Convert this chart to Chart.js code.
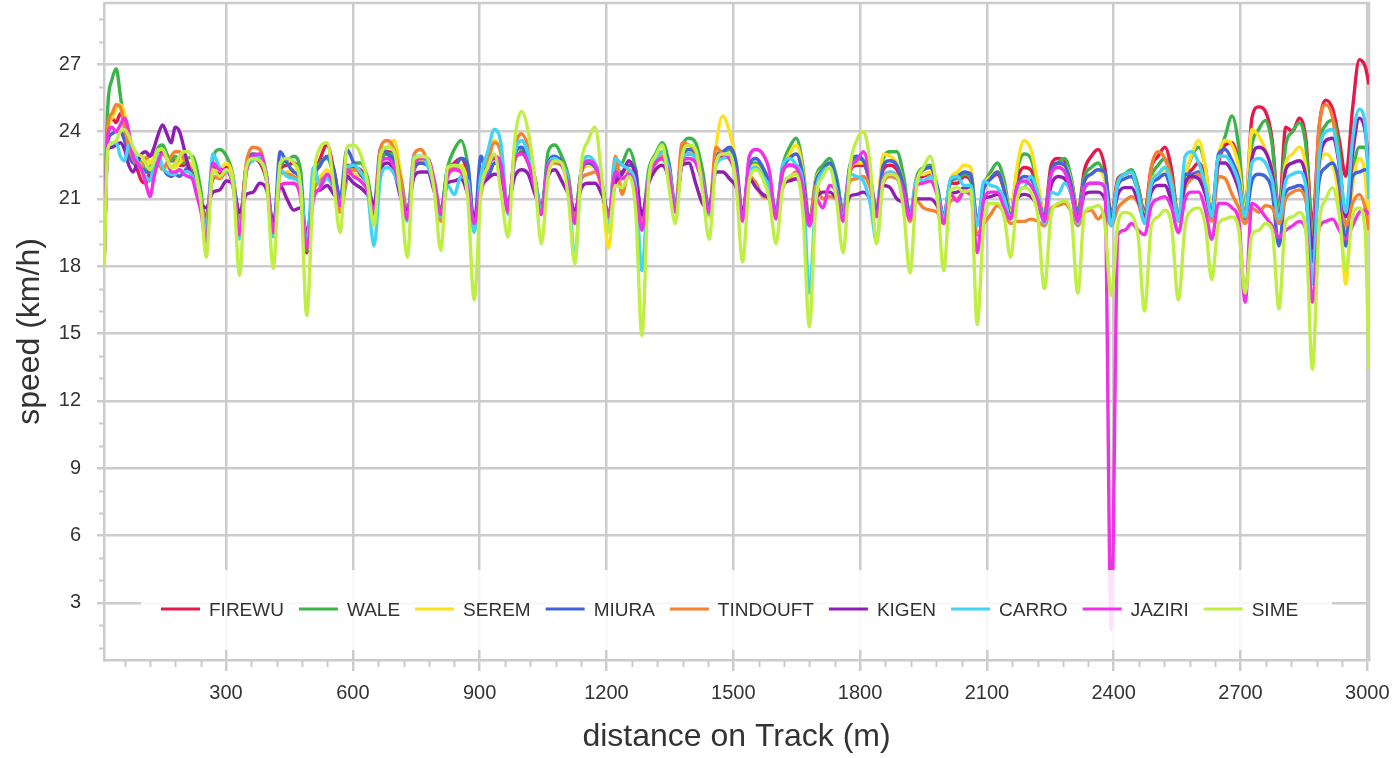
<!DOCTYPE html>
<html>
<head>
<meta charset="utf-8">
<script src="https://cdn.jsdelivr.net/npm/chart.js@4.4.1/dist/chart.umd.min.js"></script>
<style>
  html, body { margin: 0; padding: 0; background: #fff; }
  #wrap { width: 1393px; height: 758px; }
</style>
</head>
<body>
<div id="wrap"><canvas id="chart"></canvas></div>
<script>
// distance on track (m), shared by every runner
const dist = [12,20,30,40,50,60,70,80,90,100,110,120,130,140,150,160,170,180,190,200,210,220,230,241,
  253,269,285,301,317, 332,348,364,380,396, 412,428,444,460,476, 491,507,523,539,555, 570,586,602,618,634,
  650,666,682,698,714, 729,745,761,777,793, 808,824,840,856,872, 887,903,919,935,951, 967,983,999,1015,1031,
  1046,1062,1078,1094,1110, 1125,1141,1157,1173,1189, 1205,1221,1237,1253,1269, 1284,1300,1316,1332,1348,
  1363,1379,1395,1411,1427, 1443,1459,1475,1491,1507, 1522,1538,1554,1570,1586, 1601,1617,1633,1649,1665,
  1680,1696,1712,1728,1744, 1760,1776,1792,1808,1824, 1839,1855,1871,1887,1903, 1918,1934,1950,1966,1982,
  1998,2014,2030,2046,2062, 2077,2093,2109,2125,2141, 2156,2172,2188,2204,2220, 2236,2252,2268,2284,2300,
  2315,2331,2347,2363,2379, 2394,2410,2426,2442,2458, 2473,2489,2505,2521,2537, 2553,2569,2585,2601,2617,
  2632,2648,2664,2680,2696, 2711,2727,2743,2759,2775, 2791,2807,2823,2839,2855, 2870,2886,2902,2918,2934,
  2949,2965,2981,2995,3004];

// speed (km/h)
const firewu = [18.5,24.2,24.6,24.4,24.8,24.2,23.0,22.7,22.3,21.8,21.7,22.2,22.5,22.9,23.1,22.9,22.7,22.7,22.5,22.5,22.6,22.3,21.8,21.0,
  20.1,22.4,22.1,22.4,21.8, 19.9,22.3,22.8,22.6,21.8, 19.6,22.3,22.5,22.6,21.8, 18.6,21.8,22.8,23.4,22.3, 21.0,22.5,22.4,22.3,21.8,
  20.6,22.6,23.1,22.9,21.8, 20.3,22.3,22.6,22.5,21.6, 20.3,22.2,22.6,22.8,22.0, 19.8,22.1,22.6,22.8,22.3, 20.5,22.7,23.1,22.6,21.7,
  20.5,22.5,22.7,22.8,21.8, 20.1,22.2,22.5,22.5,21.7, 20.1,22.1,22.2,22.3,21.7, 19.9,22.0,22.6,22.8,22.1, 20.5,22.7,23.0,22.9,21.8,
  20.4,22.6,22.9,22.8,22.0, 20.2,22.2,22.4,22.0,21.4, 20.3,22.2,22.5,22.5,21.7, 19.9,21.6,22.1,22.4,21.6, 20.3,22.2,22.5,22.5,21.7,
  20.4,22.3,22.5,22.3,21.5, 20.2,21.8,22.0,22.1,21.4, 20.2,21.7,21.7,22.0,21.8, 20.0,21.5,21.9,22.1,21.4, 20.3,21.9,22.4,22.3,21.4,
  20.3,22.5,22.8,22.7,21.8, 20.4,22.3,22.9,23.2,22.4, 20.3,21.9,22.1,22.2,21.5, 20.4,22.4,22.9,23.3,22.3, 20.2,21.9,22.3,22.6,21.9,
  20.5,22.6,23.4,23.5,22.6, 20.5,24.6,25.1,24.9,23.6, 20.4,24.2,24.0,24.6,23.6, 19.8,24.2,25.4,25.0,23.6, 22.0,25.0,27.2,26.9,26.1];

const wale = [19.0,25.0,26.3,26.8,25.6,24.3,23.6,23.2,22.8,22.6,22.3,22.4,22.8,23.3,23.4,23.0,22.7,22.9,22.7,22.6,22.8,22.9,22.4,21.3,
  19.8,22.8,23.2,22.9,22.0, 19.8,22.5,22.9,22.7,21.9, 19.5,22.4,22.7,22.9,22.3, 18.7,21.9,22.6,22.8,22.0, 20.5,21.9,22.6,22.6,22.0,
  20.5,22.6,23.0,23.0,21.9, 20.4,22.5,22.8,22.6,21.7, 20.5,22.4,23.2,23.6,22.5, 19.9,22.0,22.8,22.9,22.4, 20.6,22.8,23.2,22.9,21.9,
  20.4,23.1,23.4,22.9,22.0, 20.2,22.3,22.6,22.5,21.7, 20.2,22.3,22.6,23.2,22.3, 20.0,22.3,23.0,23.5,22.6, 20.7,23.2,23.7,23.5,22.3,
  20.6,22.9,23.1,23.2,22.4, 20.3,22.4,22.6,22.3,21.6, 20.5,22.5,23.3,23.7,22.4, 20.0,22.0,22.5,22.8,22.0, 20.5,22.4,22.8,22.7,21.9,
  20.6,22.8,23.1,23.1,22.0, 20.3,22.0,22.4,22.5,21.6, 20.2,21.8,21.9,22.1,21.9, 20.0,21.6,22.2,22.6,21.8, 20.4,22.3,23.0,22.8,21.6,
  20.2,22.2,22.6,22.8,21.9, 20.3,22.0,22.4,22.6,21.9, 20.2,21.8,22.1,22.3,21.5, 20.3,22.0,22.5,22.8,21.9, 20.3,22.0,22.9,23.3,22.4,
  20.4,22.8,23.8,24.7,23.3, 20.5,23.4,24.1,24.5,23.4, 20.4,23.4,24.0,24.4,23.3, 19.4,23.4,24.3,24.5,23.0, 19.0,22.0,23.3,23.3,22.3];

const serem = [18.8,24.0,24.6,25.0,25.2,24.8,23.8,23.2,22.8,22.4,22.9,22.6,22.8,22.8,22.5,22.4,22.4,22.4,22.6,22.8,22.7,22.3,21.8,21.0,
  19.8,22.2,22.3,22.6,21.9, 19.9,22.4,23.0,22.8,22.0, 19.7,22.0,22.2,22.3,21.5, 18.9,21.6,22.0,22.3,21.6, 20.6,22.2,22.1,22.0,21.6,
  20.5,23.0,23.3,23.6,22.0, 20.3,22.4,22.7,22.6,21.7, 20.2,22.0,22.3,22.5,21.7, 19.8,22.1,22.9,23.6,22.9, 20.5,22.8,23.3,22.8,21.7,
  20.5,22.4,22.7,22.6,21.7, 20.0,22.2,22.5,22.4,21.4, 18.8,21.8,22.2,22.3,21.6, 19.9,22.0,22.6,22.9,22.2, 20.6,22.9,23.2,22.9,21.9,
  20.2,23.3,24.7,24.0,22.6, 20.2,22.3,22.5,22.0,21.4, 20.3,22.3,23.0,23.4,22.2, 20.0,21.9,22.3,22.5,21.6, 20.4,22.3,22.6,22.6,21.8,
  20.5,23.0,22.9,22.6,21.6, 20.2,22.0,22.1,22.2,21.5, 20.2,21.9,22.2,22.5,22.4, 20.0,21.6,22.0,22.2,21.5, 20.3,22.5,23.6,23.2,21.8,
  20.2,22.1,22.4,22.5,21.7, 20.1,21.8,22.1,22.3,21.8, 20.1,21.7,21.9,22.0,21.3, 20.2,21.8,22.1,22.3,21.5, 20.2,22.0,23.0,23.6,22.4,
  20.4,22.9,23.6,23.4,22.4, 20.4,24.1,23.8,23.2,22.3, 20.3,22.6,23.0,23.3,22.3, 18.5,22.4,23.0,22.6,20.8, 17.2,21.5,22.8,22.0,19.5];

const miura = [18.6,23.5,23.9,24.0,24.0,23.6,23.0,22.6,22.6,22.4,22.2,22.2,22.3,22.5,22.4,22.1,22.0,22.1,22.0,22.2,22.4,22.2,21.6,20.9,
  20.0,21.9,22.0,22.2,21.7, 19.9,22.5,23.0,22.9,21.9, 19.6,23.1,22.6,22.2,21.8, 18.8,21.8,22.5,22.9,22.3, 21.0,23.2,22.6,22.1,21.7,
  20.7,23.3,23.0,22.7,21.8, 20.3,22.4,22.6,22.5,21.6, 20.2,22.3,22.4,22.8,22.5, 19.8,22.9,22.0,22.6,22.3, 20.5,22.9,23.3,22.7,21.8,
  20.6,22.6,22.9,22.6,21.8, 20.0,22.3,22.6,22.4,21.6, 20.2,22.0,22.2,22.5,22.3, 19.8,22.0,22.7,23.1,22.5, 20.6,22.8,23.2,23.0,22.0,
  20.5,22.8,23.1,23.3,22.6, 20.3,22.5,22.8,22.4,21.7, 20.4,22.3,22.8,23.0,22.0, 20.0,21.8,22.3,22.6,21.8, 20.3,22.5,22.9,22.7,21.8,
  20.5,22.5,22.7,22.5,21.6, 20.3,21.9,22.3,22.4,21.6, 20.2,21.8,22.0,22.2,22.1, 20.0,21.5,21.9,22.2,21.4, 20.2,21.6,22.0,21.9,21.2,
  20.2,22.2,22.6,22.5,21.6, 20.2,21.8,22.1,22.3,22.2, 20.1,21.6,21.9,22.0,21.3, 20.1,21.6,21.9,22.1,21.3, 20.1,22.1,22.1,22.2,21.5,
  20.4,23.0,23.2,22.7,21.9, 20.1,21.8,22.1,22.0,21.3, 18.9,21.3,21.5,21.6,21.0, 18.2,21.8,22.4,22.6,21.6, 18.9,22.0,22.2,22.3,22.3];

const tindouft = [18.2,24.2,24.8,25.2,25.1,24.2,23.3,22.8,22.5,22.4,22.8,22.9,23.0,22.6,22.3,22.6,22.9,23.1,23.1,22.8,22.6,22.0,21.5,20.8,
  19.9,22.0,21.9,22.2,21.6, 19.8,22.6,23.3,23.2,22.0, 19.6,22.2,22.1,22.0,21.4, 18.9,21.3,21.8,22.0,21.4, 20.4,22.0,22.3,22.2,21.7,
  20.3,23.3,23.6,23.2,21.8, 20.2,23.0,23.2,22.6,21.5, 20.0,22.1,22.4,22.2,21.4, 19.7,21.2,22.6,23.5,23.0, 20.4,23.2,23.9,23.3,21.9,
  20.4,22.4,22.6,22.5,21.7, 20.1,21.9,22.1,22.2,21.5, 19.9,22.9,21.2,22.2,21.6, 19.8,21.8,22.6,22.9,22.3, 20.5,23.5,23.4,23.1,21.9,
  20.3,23.3,23.0,22.8,22.0, 20.2,22.0,21.7,21.1,21.0, 20.3,21.5,21.9,22.2,21.5, 19.8,21.6,21.0,21.1,21.0, 20.2,21.8,21.9,22.0,21.5,
  20.3,21.7,22.0,21.9,21.2, 20.0,20.9,20.6,20.5,20.4, 19.9,20.9,21.0,21.3,21.2, 19.4,19.9,20.3,20.7,20.4, 19.9,20.0,20.0,20.1,20.0,
  19.8,20.6,20.7,20.8,20.4, 19.8,20.4,20.5,20.1,20.4, 19.8,20.6,20.9,21.1,20.8, 20.0,22.4,23.1,22.8,21.8, 20.0,21.5,21.9,22.1,21.4,
  20.0,22.0,21.9,21.2,20.6, 19.9,20.6,20.4,20.7,20.6, 19.9,21.0,21.3,21.4,20.9, 19.0,24.2,25.2,24.6,22.4, 19.8,20.8,21.2,20.6,19.6];

const kigen = [18.6,23.2,23.3,23.4,23.5,23.2,22.5,22.2,22.6,23.0,23.1,22.9,23.3,23.9,24.3,23.9,23.5,24.2,24.0,23.3,22.5,22.0,21.5,20.8,
  20.6,21.3,21.4,21.8,21.6, 20.4,21.2,21.3,21.7,21.4, 20.0,21.6,21.0,20.5,20.6, 19.5,21.2,21.4,21.6,21.2, 20.9,22.0,21.7,21.5,21.2,
  20.8,22.3,22.6,22.2,21.0, 20.5,22.0,22.2,22.2,21.3, 20.4,21.7,21.8,21.9,21.2, 20.2,21.5,21.9,22.1,21.9, 20.8,22.0,22.3,22.1,21.2,
  20.6,22.0,22.3,21.8,21.2, 20.5,21.5,21.7,21.7,21.2, 20.4,21.7,22.1,22.7,22.0, 20.3,21.7,22.3,22.5,21.9, 20.6,22.5,22.6,21.7,20.8,
  20.6,22.2,22.2,21.9,21.5, 20.4,21.9,21.5,21.2,21.0, 20.4,21.7,21.8,21.9,21.3, 19.9,21.0,21.3,21.3,21.0, 20.3,21.1,21.2,21.3,21.0,
  20.4,21.6,21.5,21.0,20.8, 20.2,21.0,21.0,21.0,20.7, 20.0,21.2,21.3,21.5,21.4, 19.9,21.0,21.1,21.2,20.8, 20.2,21.0,21.2,21.1,20.7,
  20.1,21.6,22.0,21.9,21.2, 20.0,21.2,21.3,21.3,21.0, 20.0,21.2,21.5,21.5,20.9, 20.2,21.3,21.6,21.6,20.9, 20.1,21.7,22.0,21.9,21.2,
  20.2,22.6,22.6,22.2,21.4, 20.3,22.8,23.3,23.1,22.2, 20.2,22.3,22.6,22.7,21.9, 18.8,22.6,23.6,23.7,22.5, 20.2,23.0,24.6,24.0,22.5];

const carro = [18.5,23.3,23.5,23.5,22.9,22.7,23.4,23.2,22.7,22.3,22.0,21.8,22.6,23.0,22.4,22.2,22.1,22.1,22.3,22.2,22.2,22.0,21.4,20.6,
  19.4,23.0,22.4,22.2,21.8, 19.2,22.2,22.7,22.9,22.0, 19.3,22.3,22.0,21.9,21.6, 18.9,22.4,21.6,21.9,21.5, 20.8,22.4,22.5,22.2,21.5,
  18.9,22.0,22.4,22.1,21.3, 20.0,22.9,22.9,22.5,21.5, 20.2,21.6,21.2,22.0,21.8, 19.5,22.0,23.1,24.1,23.4, 20.3,23.0,23.6,23.0,21.8,
  20.4,22.5,22.8,22.5,21.7, 18.3,22.3,22.9,22.6,21.7, 20.0,22.8,22.5,22.3,21.6, 17.8,22.0,22.7,23.1,22.3, 20.5,22.7,23.0,22.8,21.8,
  20.3,22.5,22.8,22.9,22.0, 20.1,22.2,22.4,22.0,21.5, 20.2,22.5,22.8,22.5,21.6, 16.8,21.3,22.2,22.4,21.4, 20.2,22.1,22.0,21.8,20.8,
  19.1,21.9,22.2,22.0,21.0, 20.2,21.9,21.8,22.0,21.4, 20.1,21.9,22.0,21.6,21.6, 19.8,21.8,21.6,21.5,21.0, 20.1,21.4,21.5,22.0,21.3,
  19.9,21.3,21.2,21.7,21.2, 19.9,21.5,21.7,21.7,21.6, 19.8,21.7,22.1,22.2,21.2, 19.9,21.7,22.1,22.4,21.6, 20.0,22.9,23.1,22.6,21.6,
  20.2,22.9,22.9,22.5,21.7, 20.2,22.6,22.8,22.6,21.8, 20.1,21.8,22.1,22.2,21.5, 17.2,22.8,24.0,24.1,22.6, 20.4,23.6,25.0,24.3,21.0];

const jaziri = [18.4,23.8,24.2,24.0,24.3,24.6,24.0,22.9,22.6,22.3,21.7,21.1,22.0,22.7,23.0,22.8,22.2,22.2,22.3,22.1,22.0,21.9,21.2,20.4,
  19.0,22.6,22.3,22.3,21.5, 19.4,22.2,22.9,23.0,22.0, 19.5,21.6,21.7,21.7,21.1, 18.8,21.0,21.5,22.1,21.6, 20.7,22.3,22.0,21.8,21.4,
  20.4,22.6,22.8,22.4,21.3, 20.1,22.5,22.8,22.8,21.8, 20.3,22.0,22.3,22.2,21.5, 19.9,21.5,22.3,22.9,22.5, 20.4,22.8,23.0,22.6,21.4,
  20.3,22.5,22.7,22.5,21.6, 19.9,22.2,22.7,22.5,21.6, 20.2,22.2,21.9,22.1,21.4, 19.6,21.9,22.6,22.8,22.1, 20.4,22.6,22.8,22.6,21.7,
  20.4,22.7,23.0,22.8,22.1, 20.0,22.9,23.2,23.0,22.2, 20.1,22.3,22.5,22.4,21.5, 19.8,21.0,20.6,21.6,21.3, 20.0,22.3,22.7,23.1,22.0,
  20.2,21.9,22.1,22.0,21.3, 20.1,21.6,21.7,21.8,21.2, 19.9,21.2,20.9,21.3,21.2, 18.6,21.0,21.3,21.3,20.6, 20.1,21.6,21.8,21.6,21.0,
  20.0,22.1,22.4,22.2,21.3, 20.0,21.5,21.7,21.7,21.5, 1.8,19.4,19.6,19.9,19.6, 19.4,20.7,21.0,21.1,20.6, 19.5,21.0,21.3,21.3,20.5,
  19.2,20.8,20.8,20.6,20.0, 16.4,20.8,20.6,20.2,19.8, 19.3,19.6,19.8,20.0,19.6, 16.4,19.7,20.0,20.1,19.6, 19.2,19.8,20.4,20.5,20.3];

const sime = [18.0,23.2,23.5,23.6,24.0,24.1,23.8,23.3,23.0,22.9,22.6,22.3,22.7,23.2,23.2,22.8,22.4,22.6,22.9,23.1,23.1,22.8,22.0,20.8,
  18.4,22.3,22.0,22.3,21.6, 17.6,22.4,22.8,22.7,21.8, 17.9,22.6,22.8,22.6,21.6, 15.8,21.8,23.3,23.5,21.6, 19.5,23.3,23.4,23.0,21.8,
  19.8,23.0,23.3,23.1,21.0, 18.4,22.8,22.9,22.8,21.3, 18.7,22.4,22.5,22.4,21.0, 16.5,21.3,22.4,23.0,21.2, 19.3,23.6,24.9,24.0,21.8,
  19.0,22.0,22.7,22.6,21.0, 18.1,22.6,23.6,24.2,22.0, 19.5,21.6,21.5,22.0,20.5, 14.9,21.8,22.9,23.4,21.5, 19.9,22.9,23.4,23.2,21.4,
  19.2,22.6,23.0,23.0,21.6, 18.2,21.8,22.3,21.9,20.9, 19.0,21.5,22.0,22.1,20.3, 15.3,21.0,22.0,22.4,21.0, 18.6,22.4,23.6,24.0,22.5,
  19.0,21.8,22.1,22.0,20.5, 17.7,21.6,22.4,22.9,21.3, 17.8,21.4,21.5,21.3,21.4, 15.4,20.0,20.8,20.8,20.2, 18.4,21.0,21.5,21.3,20.3,
  17.0,20.3,20.8,20.9,20.2, 16.8,20.4,20.6,20.7,19.9, 16.7,19.9,20.4,20.3,19.3, 16.0,19.8,20.2,20.5,19.8, 16.5,19.8,20.5,20.6,19.8,
  17.4,19.9,20.1,20.2,19.6, 16.8,19.4,19.6,19.9,19.6, 16.1,20.0,20.2,20.4,19.5, 13.4,19.8,21.0,21.5,20.2, 17.8,20.2,20.6,19.5,13.4];

const names = ['FIREWU', 'WALE', 'SEREM', 'MIURA', 'TINDOUFT', 'KIGEN', 'CARRO', 'JAZIRI', 'SIME'];
const series = [firewu, wale, serem, miura, tindouft, kigen, carro, jaziri, sime];
const colors = ['#e6194b', '#3cb44b', '#ffe119', '#4363d8', '#f58231', '#911eb4', '#42d4f4', '#f032e6', '#bfef45'];

// tick labels
const xLabels = [300, 600, 900, 1200, 1500, 1800, 2100, 2400, 2700, 3000];
const yLabels = [3, 6, 9, 12, 15, 18, 21, 24, 27];
const xMinor = Array.from({length: 50}, (_, i) => 60 * (i + 1));
const yMinor = Array.from({length: 29}, (_, i) => i + 1);

const FONT = 'Liberation Sans';
const GRID = '#cccccc';
const TXT = '#333333';

const framePlugin = {
  id: 'frame',
  beforeDatasetsDraw(chart) {
    const {ctx, chartArea: a} = chart;
    const xs = chart.scales.x, ys = chart.scales.y;
    ctx.save();
    ctx.strokeStyle = GRID;
    ctx.lineWidth = 2.5;
    ctx.beginPath();
    ctx.moveTo(a.left, a.top);
    ctx.lineTo(a.right, a.top);
    ctx.lineTo(a.right, a.bottom);
    ctx.stroke();
    // short minor ticks
    ctx.lineWidth = 2;
    ctx.beginPath();
    xMinor.filter(v => !xLabels.includes(v)).forEach(v => {
      const p = Math.round(xs.getPixelForValue(v)) + 0.5;
      ctx.moveTo(p, a.bottom);
      ctx.lineTo(p, a.bottom + 7);
    });
    yMinor.filter(v => !yLabels.includes(v)).forEach(v => {
      const p = Math.round(ys.getPixelForValue(v)) + 0.5;
      ctx.moveTo(a.left, p);
      ctx.lineTo(a.left - 5, p);
    });
    ctx.stroke();
    ctx.restore();
  },
  afterDatasetsDraw(chart) {
    const {ctx, chartArea: a} = chart;
    ctx.save();
    ctx.fillStyle = 'rgba(255,255,255,0.86)';
    ctx.fillRect(a.left + 37, a.bottom - 90, a.right - a.left - 74, 80);
    ctx.font = '19px "' + FONT + '"';
    ctx.textBaseline = 'middle';
    let x = a.left + 57;
    const y = a.bottom - 51;
    names.forEach((n, i) => {
      ctx.strokeStyle = colors[i];
      ctx.lineWidth = 3;
      ctx.beginPath();
      ctx.moveTo(x, y);
      ctx.lineTo(x + 39, y);
      ctx.stroke();
      x += 48;
      ctx.fillStyle = TXT;
      ctx.fillText(n, x, y + 2);
      x += ctx.measureText(n).width + 15;
    });
    ctx.restore();
  }
};

const datasets = series.map((s, i) => ({
  label: names[i],
  data: s.map((v, j) => ({x: dist[j], y: v})),
  borderColor: colors[i],
  backgroundColor: colors[i],
  borderWidth: 3.4,
  pointRadius: 0,
  cubicInterpolationMode: 'monotone',
  fill: false,
  order: names.length - i
}));

new Chart(document.getElementById('chart'), {
  type: 'line',
  data: {datasets},
  options: {
    responsive: true,
    maintainAspectRatio: false,
    animation: false,
    layout: {padding: {top: 3, right: 24, left: 0, bottom: 0}},
    plugins: {legend: {display: false}, tooltip: {enabled: false}},
    scales: {
      x: {
        type: 'linear',
        min: 11.3,
        max: 3004,
        afterBuildTicks: s => { s.ticks = xMinor.map(v => ({value: v})); },
        afterFit: s => { s.height = 98; s.paddingLeft = 0; s.paddingRight = 0; },
        grid: {
          color: c => (c.tick && xLabels.includes(c.tick.value)) ? GRID : 'rgba(0,0,0,0)',
          tickColor: c => (c.tick && xLabels.includes(c.tick.value)) ? GRID : 'rgba(0,0,0,0)',
          lineWidth: 2.5,
          tickLength: 11
        },
        border: {color: GRID, width: 2.5},
        ticks: {
          autoSkip: false, maxRotation: 0, padding: 10, color: TXT,
          font: {family: FONT, size: 20},
          callback: v => xLabels.includes(v) ? String(v) : ''
        },
        title: {display: true, text: 'distance on Track (m)', color: TXT,
          font: {family: FONT, size: 32}, padding: {top: 0, bottom: 2}}
      },
      y: {
        min: 0.45,
        max: 29.73,
        afterBuildTicks: s => { s.ticks = yMinor.map(v => ({value: v})); },
        afterFit: s => { s.width = 104; s.paddingTop = 0; s.paddingBottom = 0; },
        grid: {
          color: c => (c.tick && yLabels.includes(c.tick.value)) ? GRID : 'rgba(0,0,0,0)',
          tickColor: c => (c.tick && yLabels.includes(c.tick.value)) ? GRID : 'rgba(0,0,0,0)',
          lineWidth: 2.5,
          tickLength: 7
        },
        border: {color: GRID, width: 2.5},
        ticks: {
          autoSkip: false, padding: 16, color: TXT,
          font: {family: FONT, size: 20},
          callback: v => yLabels.includes(v) ? String(v) : ''
        },
        title: {display: true, text: 'speed (km/h)', color: TXT,
          font: {family: FONT, size: 32}, padding: {top: 11, bottom: 0}}
      }
    }
  },
  plugins: [framePlugin]
});
</script>
</body>
</html>
